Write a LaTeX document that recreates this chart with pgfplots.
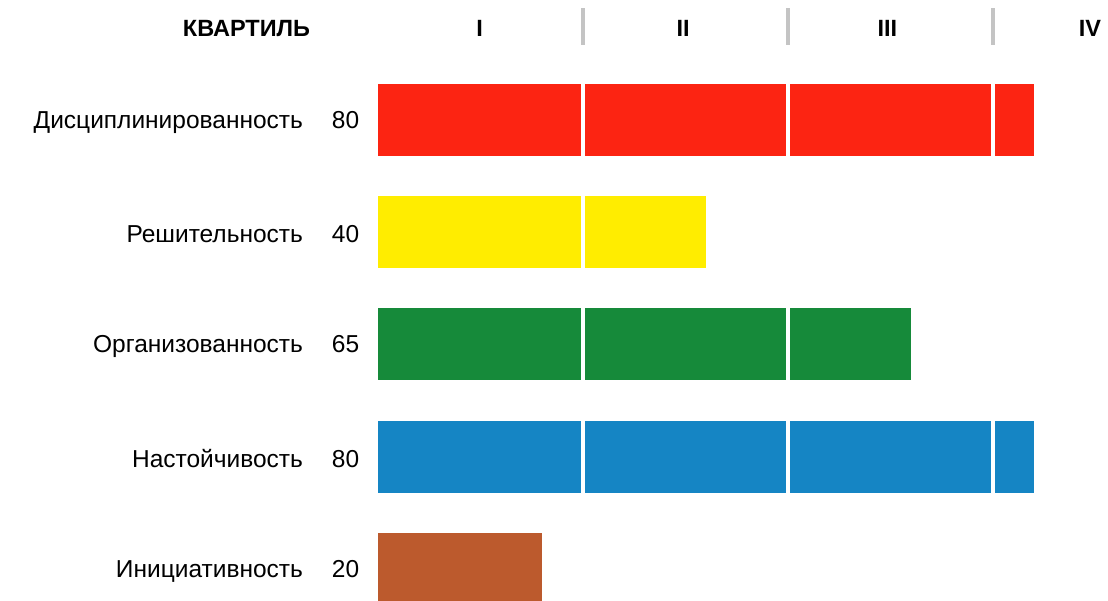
\documentclass[border=0pt]{standalone}
\usepackage{fontspec}
\setmainfont{Liberation Sans}
\usepackage{pgfplots}
\pgfplotsset{compat=1.18}

\definecolor{cred}{HTML}{FC2412}
\definecolor{cyellow}{HTML}{FFED00}
\definecolor{cgreen}{HTML}{168A3A}
\definecolor{cblue}{HTML}{1585C4}
\definecolor{cbrown}{HTML}{BC5A2D}
\definecolor{csep}{HTML}{C4C4C4}

\begin{document}
\begin{tikzpicture}
\useasboundingbox (-378pt,0pt) rectangle (730pt,601pt);
\begin{axis}[
  width=730pt, height=601pt,
  scale only axis,
  xmin=0, xmax=89,
  ymin=-0.286, ymax=5.07,
  xtick=\empty,
  ytick={0,1,2,3,4},
  yticklabels={Инициативность\hspace{29pt}20,
               Настойчивость\hspace{29pt}80,
               Организованность\hspace{29pt}65,
               Решительность\hspace{29pt}40,
               Дисциплинированность\hspace{29pt}80},
  yticklabel style={font=\fontsize{24.5}{28}\selectfont, anchor=east, xshift=-11pt, yshift=-2pt},
  axis line style={draw=none},
  tick style={draw=none},
  xbar, bar width=72pt, bar shift=0pt,
  clip mode=individual,
]
\addplot[fill=cred, draw=none] coordinates {(80,4)};
\addplot[fill=cyellow, draw=none] coordinates {(40,3)};
\addplot[fill=cgreen, draw=none] coordinates {(65,2)};
\addplot[fill=cblue, draw=none] coordinates {(80,1)};
\addplot[fill=cbrown, draw=none] coordinates {(20,0)};

% quartile gaps
\pgfplotsinvokeforeach{25,50,75}{
  \draw[white, line width=4pt] (axis cs:#1,-0.3) -- (axis cs:#1,4.4);
  \draw[csep, line width=3.5pt] (axis cs:#1,4.67) -- (axis cs:#1,5.0);
}
\node[font=\fontsize{23.5}{28}\selectfont\bfseries, anchor=east] at (axis cs:-7.85,4.82) {КВАРТИЛЬ};
\node[font=\fontsize{23.5}{28}\selectfont\bfseries] at (axis cs:12.4,4.82) {I};
\node[font=\fontsize{23.5}{28}\selectfont\bfseries] at (axis cs:37.2,4.82) {II};
\node[font=\fontsize{23.5}{28}\selectfont\bfseries] at (axis cs:62.1,4.82) {III};
\node[font=\fontsize{23.5}{28}\selectfont\bfseries] at (axis cs:86.8,4.82) {IV};
\end{axis}
\end{tikzpicture}
\end{document}
